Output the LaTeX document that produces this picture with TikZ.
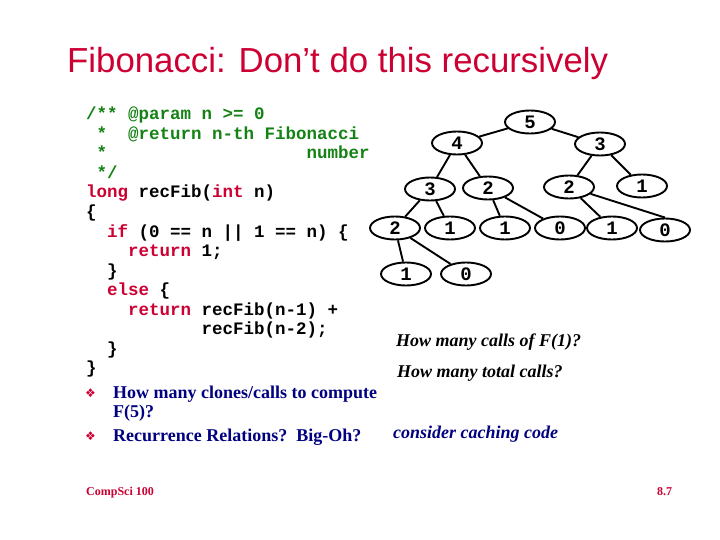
\documentclass[tikz,border=0pt]{standalone}
\usepackage{fontspec}
\setmainfont{Liberation Serif}
\newfontfamily\titlefont{Liberation Sans}
\newfontfamily\codefont{Liberation Mono}
\newfontfamily\symfont{DejaVu Sans}
\usetikzlibrary{shapes.geometric}
\definecolor{crim}{RGB}{204,0,51}
\definecolor{cgreen}{RGB}{20,130,20}
\definecolor{navy}{RGB}{0,0,128}
\tikzset{
  codeline/.style={anchor=base west, inner sep=0pt, font=\codefont\bfseries\fontsize{17.5}{19}\selectfont},
  fnode/.style={ellipse, draw=black, line width=1.9pt, minimum width=50pt, minimum height=23pt, inner sep=0pt, font=\codefont\bfseries\fontsize{19}{21}\selectfont},
  edge/.style={line width=1.9pt, black},
  qtext/.style={anchor=base west, inner sep=0pt, font=\bfseries\itshape\fontsize{18}{20}\selectfont},
  btext/.style={anchor=base west, inner sep=0pt, text=navy, font=\bfseries\fontsize{18}{20}\selectfont},
  bullet/.style={anchor=base west, inner sep=0pt, text=crim, font=\symfont\fontsize{12}{14}\selectfont},
  foot/.style={anchor=base west, inner sep=0pt, text=crim, font=\bfseries\fontsize{12}{14}\selectfont},
}
\begin{document}
\begin{tikzpicture}[x=1pt,y=-1pt]
\path[use as bounding box, fill=white] (0,0) rectangle (720,540);
% title
\node[anchor=base west, inner sep=0pt, text=crim, font=\titlefont\fontsize{34.8}{38}\selectfont] (title) at (67,73) {Fibonacci: Don’t do this recursively};
% code
\node[codeline, text=cgreen] (c1) at (86,120) {/** @param n >= 0};
\node[codeline, text=cgreen] (c2) at (86,139.5) {\ *\ \ @return n-th Fibonacci};
\node[codeline, text=cgreen] (c3) at (86,159) {\ *\ \ \ \ \ \ \ \ \ \ \ \ \ \ \ \ \ \ \ number};
\node[codeline, text=cgreen] (c4) at (86,178.5) {\ */};
\node[codeline] (c5) at (86,198) {\textcolor{crim}{long} recFib(\textcolor{crim}{int} n)};
\node[codeline] (c6) at (86,217.5) {\{};
\node[codeline] (c7) at (86,237) {\ \ \textcolor{crim}{if} (0 == n || 1 == n) \{};
\node[codeline] (c8) at (86,256.5) {\ \ \ \ \textcolor{crim}{return} 1;};
\node[codeline] (c9) at (86,276) {\ \ \}};
\node[codeline] (c10) at (86,295.5) {\ \ \textcolor{crim}{else} \{};
\node[codeline] (c11) at (86,315) {\ \ \ \ \textcolor{crim}{return} recFib(n-1) +};
\node[codeline] (c12) at (86,334.5) {\ \ \ \ \ \ \ \ \ \ \ recFib(n-2);};
\node[codeline] (c13) at (86,354) {\ \ \}};
\node[codeline] (c14) at (86,373.5) {\}};
% bullets
\node[bullet] (b1) at (85,397) {❖};
\node[btext] (t1) at (113,398) {How many clones/calls to compute};
\node[btext] (t1b) at (113,417) {F(5)?};
\node[bullet] (b2) at (85,440) {❖};
\node[btext] (t2) at (113,441) {Recurrence Relations?\ \ Big-Oh?};
% tree
\node[fnode] (n5) at (530,122) {5};
\node[fnode] (n4) at (457,143) {4};
\node[fnode] (n3r) at (600,144) {3};
\node[fnode] (n3l) at (430,189) {3};
\node[fnode] (n2m) at (488,188) {2};
\node[fnode] (n2r) at (569,187) {2};
\node[fnode] (n1r) at (642,186) {1};
\node[fnode] (n2l) at (395,228) {2};
\node[fnode] (a1) at (450,228) {1};
\node[fnode] (a2) at (505,228) {1};
\node[fnode] (a3) at (560,228) {0};
\node[fnode] (a4) at (612,228) {1};
\node[fnode] (a5) at (665,230) {0};
\node[fnode] (d1) at (406,274) {1};
\node[fnode] (d2) at (466,274) {0};
\draw[edge] (n5) -- (n4);
\draw[edge] (n5) -- (n3r);
\draw[edge] (n4) -- (n3l);
\draw[edge] (n4) -- (n2m);
\draw[edge] (n3r) -- (n2r);
\draw[edge] (n3r) -- (n1r);
\draw[edge] (n3l) -- (n2l);
\draw[edge] (n3l) -- (a1);
\draw[edge] (n2m) -- (a2);
\draw[edge] (n2m) -- (a3);
\draw[edge] (n2r) -- (a4);
\draw[edge] (n2r) -- (a5.north);
\draw[edge] (n2l) -- (d1);
\draw[edge] (n2l) -- (d2);
% questions
\node[qtext] (q1) at (396,346) {How many calls of F(1)?};
\node[qtext] (q2) at (397,377) {How many total calls?};
\node[qtext, text=navy] (q3) at (393,438) {consider caching code};
% footer
\node[foot] (f1) at (86,495) {CompSci 100};
\node[foot] (f2) at (657,495) {8.7};
\end{tikzpicture}
\end{document}
